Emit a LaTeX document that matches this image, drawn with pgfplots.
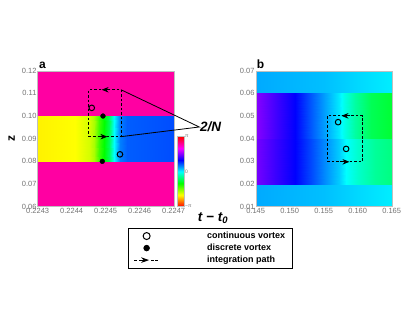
\documentclass[border=0pt]{standalone}
\usepackage{pgfplots}
\pgfplotsset{compat=1.18}
\usepackage{fontspec}
\setmainfont{Liberation Sans}
\usetikzlibrary{arrows.meta}

\pgfplotsset{
  colormap={phase}{rgb255=(255,0,0) rgb255=(255,255,0) rgb255=(0,255,0)
    rgb255=(0,255,255) rgb255=(0,0,255) rgb255=(255,0,255) rgb255=(255,0,0)},
  panel/.style={
    scale only axis, width=136pt, height=136pt, clip=false,
    axis on top, axis line style={draw=black!25, line width=0.4pt},
    major tick length=0pt, scaled ticks=false,
    tick label style={font=\fontsize{7.5}{8}\selectfont, text=black!55, inner sep=1pt},
    point meta min=-180, point meta max=180,
  },
  band/.style={surf, shader=interp, mesh/rows=2, point meta=explicit, forget plot},
  ipath/.style={black, line width=0.9pt, dash pattern=on 2.7pt off 1.8pt, forget plot},
  iarrow/.style={black, line width=0.9pt, -{Stealth[length=7pt,width=5.5pt]}, forget plot},
  cvort/.style={only marks, mark=o, mark size=2.8pt, line width=1pt, black, forget plot},
  dvort/.style={only marks, mark=*, mark size=2.4pt, black, forget plot},
}

\begin{document}
\begin{tikzpicture}
\useasboundingbox (0,0) rectangle (415pt,321pt);

% ---------- panel a ----------
\begin{axis}[panel,
  at={(37.7pt,114.3pt)}, anchor=south west,
  xmin=0.2243, xmax=0.2247, ymin=0.06, ymax=0.12,
  xtick={0.2243,0.2244,0.2245,0.2246,0.2247},
  xticklabels={0.2243,0.2244,0.2245,0.2246,0.2247},
  ytick={0.06,0.07,0.08,0.09,0.10,0.11,0.12},
  yticklabels={0.06,0.07,0.08,0.09,0.10,0.11,0.12},
  colorbar,
  colorbar style={at={(1.0243,0)}, anchor=south west, scale only axis,
    width=7pt, height=70pt, axis line style={draw=black!25},
    major tick length=0pt, ytick={-180,0,180}, yticklabels={−π,0,π},
    yticklabel style={font=\fontsize{5}{5}\selectfont, text=black!55, inner sep=1pt}},
  legend style={at={(0.662,-0.154)}, anchor=north west, draw=black, line width=0.8pt,
    font=\bfseries\fontsize{9}{10.3}\selectfont, inner xsep=5.5pt, inner ysep=2pt,
    row sep=0pt},
  legend cell align=left,
]
% bottom and top bands (uniform phase)
\addplot[band] coordinates {
  (0.2243,0.06) [142] (0.2247,0.06) [142]
  (0.2243,0.08) [142] (0.2247,0.08) [142]
};
\addplot[band] coordinates {
  (0.2243,0.10) [142] (0.2247,0.10) [142]
  (0.2243,0.12) [142] (0.2247,0.12) [142]
};
% middle band
\addplot[band] coordinates {
  (0.2243,0.08) [-123] (0.22441,0.08) [-120] (0.22445,0.08) [-110] (0.224465,0.08) [-100]
  (0.22448,0.08) [-75] (0.224495,0.08) [-60] (0.22451,0.08) [-40] (0.224524,0.08) [0]
  (0.224543,0.08) [30] (0.224563,0.08) [38] (0.2247,0.08) [42]
  (0.2243,0.10) [-123] (0.22441,0.10) [-120] (0.22445,0.10) [-110] (0.224465,0.10) [-100]
  (0.22448,0.10) [-75] (0.224495,0.10) [-60] (0.22451,0.10) [-40] (0.224524,0.10) [0]
  (0.224543,0.10) [30] (0.224563,0.10) [38] (0.2247,0.10) [42]
};
% integration path
\addplot[ipath] coordinates {
  (0.22445,0.0909) (0.224545,0.0909) (0.224545,0.1116) (0.22445,0.1116) (0.22445,0.0909)
};
\addplot[iarrow] coordinates {(0.224513,0.1116) (0.224488,0.1116)};
\addplot[iarrow] coordinates {(0.224481,0.0909) (0.224505,0.0909)};
% vortices
\addplot[cvort] coordinates {(0.224459,0.1036) (0.224542,0.0831)};
\addplot[dvort] coordinates {(0.224492,0.1000) (0.22449,0.0800)};

\coordinate (rtop) at (axis cs:0.224545,0.1116);
\coordinate (rbot) at (axis cs:0.224545,0.0909);
\node[anchor=base west, inner sep=0, font=\bfseries\fontsize{12}{12}\selectfont,
  xshift=1.3pt, yshift=2.5pt] at (rel axis cs:0,1) {a};

\addlegendimage{legend image code/.code={
  \path[draw=none, fill=none] (0pt,-1pt) rectangle (71pt,1pt);
  \draw[only marks, mark=o, mark size=3.5pt, line width=1pt, black] plot coordinates {(12.5pt,0pt)};}}
\addlegendentry{continuous vortex}
\addlegendimage{legend image code/.code={
  \path[draw=none, fill=none] (0pt,-1pt) rectangle (71pt,1pt);
  \draw[only marks, mark=*, mark size=2.8pt, black] plot coordinates {(12.5pt,0pt)};}}
\addlegendentry{discrete vortex}
\addlegendimage{legend image code/.code={
  \path[draw=none, fill=none] (0pt,-1pt) rectangle (71pt,1pt);
  \draw[line width=1pt, black] (0pt,0pt) -- (3pt,0pt);
  \draw[line width=1pt, black, -{Stealth[length=8pt,width=5.5pt]}] (5pt,0pt) -- (15pt,0pt);
  \draw[line width=1pt, black, dash pattern=on 2.5pt off 1.8pt] (17pt,0pt) -- (25pt,0pt);}}
\addlegendentry{integration path}
\end{axis}

% ---------- panel b ----------
\begin{axis}[panel,
  at={(255.7pt,114.3pt)}, anchor=south west,
  xmin=0.145, xmax=0.165, ymin=0.01, ymax=0.07,
  xtick={0.145,0.150,0.155,0.160,0.165},
  xticklabels={0.145,0.150,0.155,0.160,0.165},
  ytick={0.01,0.02,0.03,0.04,0.05,0.06,0.07},
  yticklabels={0.01,0.02,0.03,0.04,0.05,0.06,0.07},
]
\addplot[band] coordinates {
  (0.145,0.01) [20] (0.155,0.01) [15] (0.160,0.01) [9] (0.165,0.01) [4]
  (0.145,0.02) [20] (0.155,0.02) [15] (0.160,0.02) [9] (0.165,0.02) [4]
};
\addplot[band] coordinates {
  (0.145,0.06) [20] (0.155,0.06) [15] (0.160,0.06) [9] (0.165,0.06) [4]
  (0.145,0.07) [20] (0.155,0.07) [15] (0.160,0.07) [9] (0.165,0.07) [4]
};
\addplot[band] coordinates {
  (0.145,0.02) [88] (0.1479,0.02) [74] (0.1508,0.02) [60] (0.1533,0.02) [42] (0.1552,0.02) [27]
  (0.1572,0.02) [12] (0.1583,0.02) [0] (0.1600,0.02) [-12] (0.1625,0.02) [-24] (0.165,0.02) [-30]
  (0.145,0.04) [88] (0.1479,0.04) [74] (0.1508,0.04) [60] (0.1533,0.04) [42] (0.1552,0.04) [27]
  (0.1572,0.04) [12] (0.1583,0.04) [0] (0.1600,0.04) [-12] (0.1625,0.04) [-24] (0.165,0.04) [-30]
};
\addplot[band] coordinates {
  (0.145,0.04) [92] (0.1479,0.04) [76] (0.1508,0.04) [60] (0.1533,0.04) [38] (0.1552,0.04) [22]
  (0.1572,0.04) [5] (0.1580,0.04) [-5] (0.1596,0.04) [-22] (0.1620,0.04) [-40] (0.165,0.04) [-48]
  (0.145,0.06) [92] (0.1479,0.06) [76] (0.1508,0.06) [60] (0.1533,0.06) [38] (0.1552,0.06) [22]
  (0.1572,0.06) [5] (0.1580,0.06) [-5] (0.1596,0.06) [-22] (0.1620,0.06) [-40] (0.165,0.06) [-48]
};
\addplot[ipath] coordinates {
  (0.1555,0.0298) (0.1607,0.0298) (0.1607,0.0501) (0.1555,0.0501) (0.1555,0.0298)
};
\addplot[iarrow] coordinates {(0.15894,0.0501) (0.15761,0.0501)};
\addplot[iarrow] coordinates {(0.15736,0.0298) (0.15879,0.0298)};
\addplot[cvort] coordinates {(0.15712,0.0473) (0.1583,0.0355)};
\node[anchor=base west, inner sep=0, font=\bfseries\fontsize{12}{12}\selectfont,
  xshift=1pt, yshift=2.5pt] at (rel axis cs:0,1) {b};
\end{axis}

% labels and pointer lines
\draw[black, line width=0.8pt] (rtop) -- (199.3pt,194pt) -- (rbot);
\node[anchor=west, inner sep=0, font=\bfseries\itshape\fontsize{13.5}{13.5}\selectfont]
  at (199.8pt,194pt) {2/N};
\node[font=\bfseries\itshape\fontsize{13.5}{13.5}\selectfont, inner sep=0]
  at (213pt,103pt) {t − t\textsubscript{0}};
\node[rotate=90, inner sep=0, font=\bfseries\fontsize{12}{12}\selectfont]
  at (11.7pt,182.7pt) {z};
\end{tikzpicture}
\end{document}
